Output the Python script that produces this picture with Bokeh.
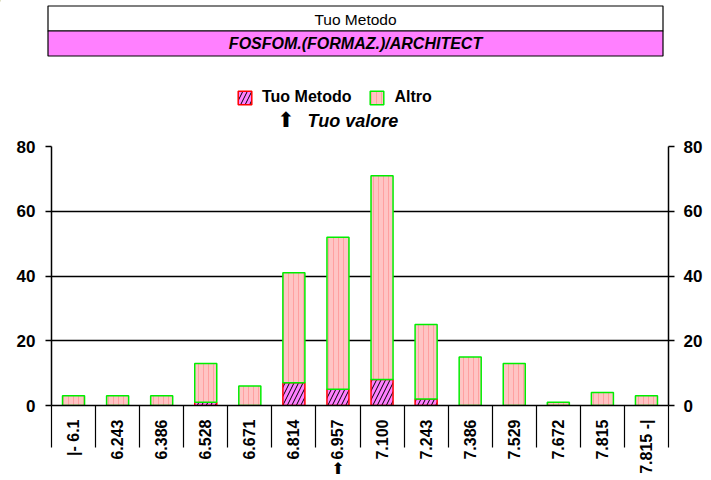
import math
from bokeh.plotting import figure
from bokeh.layouts import column
from bokeh.models import (ColumnDataSource, Range1d, FixedTicker, LinearAxis, Legend,
                          LegendItem)
from bokeh.core.properties import value
from bokeh.embed import file_html
from bokeh.resources import INLINE

# ---- data ----
categories = ["|- 6.1", "6.243", "6.386", "6.528", "6.671", "6.814", "6.957",
              "7.100", "7.243", "7.386", "7.529", "7.672", "7.815", "7.815 -|"]
tuo_metodo = [0, 0, 0, 1, 0, 7, 5, 8, 2, 0, 0, 0, 0, 0]
altro = [3, 3, 3, 12, 6, 34, 47, 63, 23, 15, 13, 1, 4, 3]
y_ticks = [0, 20, 40, 60, 80]
your_value_category = "6.957"
title_top = "Tuo Metodo"
title_sub = "FOSFOM.(FORMAZ.)/ARCHITECT"
legend_labels = ["Tuo Metodo", "Altro"]
marker_text = "Tuo valore"

FONT = "Liberation Sans"
MAGENTA = "#FF80FF"
PINK = "#FFC4C4"
ARROW = "\u2b06"

tuo_style = dict(fill_color=MAGENTA, line_color="#FF0000", line_width=1.5,
                 hatch_pattern="/", hatch_color="#000000", hatch_scale=9, hatch_weight=1)
altro_style = dict(fill_color=PINK, line_color="#00EE00", line_width=1.5,
                   hatch_pattern="|", hatch_color="#FFA0A0", hatch_scale=5, hatch_weight=1)

W = 711
HEAD_H = 136
MAIN_H = 480 - HEAD_H
BL, BR = 51, 43          # left / right borders of the chart frame

# ---------------- header (title boxes, legend, marker note) ----------------
head = figure(width=W, height=HEAD_H, output_backend="svg", toolbar_location=None,
              title=None, x_axis_location=None, y_axis_location=None, min_border=0)
if "frame_align" in head.properties():
    head.frame_align = False
    hx0, hx1 = 0, W
else:
    hx0, hx1 = BL, W - BR
head.x_range = Range1d(hx0, hx1)
head.y_range = Range1d(HEAD_H, 0)
head.grid.visible = False
head.outline_line_color = None
head.background_fill_color = "white"
head.border_fill_color = "white"

head.quad(left=[max(47.5, hx0 + 0.5)] * 2, right=[662.5, 662.5], top=[5.5, 30.5],
          bottom=[30.5, 55.5], fill_color=["white", MAGENTA], line_color="black",
          line_width=1.2)
head.text(x=[355], y=[18.5], text=[title_top], text_align="center", text_baseline="middle",
          text_font=value(FONT), text_font_size="15.5px", text_color="black")
head.text(x=[355], y=[43], text=[title_sub], text_align="center", text_baseline="middle",
          text_font=value(FONT), text_font_style="bold italic", text_font_size="16px",
          text_color="black")

# legend swatches: off-frame zero-height bars, only used by the legend
lr_tuo = head.vbar(x=[hx0 - 100], top=[0], bottom=[0], width=1, **tuo_style)
lr_altro = head.vbar(x=[hx0 - 100], top=[0], bottom=[0], width=1, **altro_style)
legend = Legend(items=[LegendItem(label=legend_labels[0], renderers=[lr_tuo]),
                       LegendItem(label=legend_labels[1], renderers=[lr_altro])],
                location=(236 - hx0, 30), orientation="horizontal",
                glyph_width=17, glyph_height=17, label_standoff=9, spacing=17,
                padding=0, margin=0, border_line_color=None,
                background_fill_alpha=0,
                label_text_font=FONT, label_text_font_style="bold",
                label_text_font_size="16px", label_text_color="black")
head.add_layout(legend)

head.text(x=[285.5], y=[119.5], text=[ARROW], text_align="center", text_baseline="middle",
          text_font=value("DejaVu Sans"), text_font_size="21px", text_color="black")
head.text(x=[307], y=[120.5], text=[marker_text], text_align="left", text_baseline="middle",
          text_font=value(FONT), text_font_style="bold italic", text_font_size="18px",
          text_color="black")

# ---------------- main chart ----------------
xpos = list(range(1, len(categories) + 1))
source = ColumnDataSource(data=dict(x=xpos, tuo=tuo_metodo, altro=altro))

p = figure(width=W, height=MAIN_H, output_backend="svg", toolbar_location=None,
           title=None, x_range=Range1d(0.5, len(categories) + 0.5),
           y_range=Range1d(0, 80),
           min_border_left=BL, min_border_right=BR, min_border_top=10,
           min_border_bottom=75)
p.outline_line_color = None
p.background_fill_color = "white"
p.border_fill_color = "white"

stack_styles = {k: [tuo_style[k], altro_style[k]] for k in tuo_style}
renderers = p.vbar_stack(["tuo", "altro"], x="x", width=0.5, source=source, **stack_styles)

# x axis: labels at category centres, separators as minor ticks
xa = p.xaxis[0]
xa.ticker = FixedTicker(ticks=xpos, minor_ticks=[i + 0.5 for i in range(len(categories) + 1)])
xa.major_label_overrides = {i: c for i, c in zip(xpos, categories)}
xa.major_label_orientation = math.pi / 2
xa.major_label_text_font = FONT
xa.major_label_text_font_style = "bold"
xa.major_label_text_font_size = "16px"
xa.major_label_text_color = "black"
xa.major_label_standoff = -28
xa.major_tick_line_color = None
xa.major_tick_out = 0
xa.major_tick_in = 0
xa.minor_tick_line_color = "black"
xa.minor_tick_line_width = 1.2
xa.minor_tick_out = 42
xa.minor_tick_in = 0
xa.axis_line_color = "black"
xa.axis_line_width = 1.5

# arrow under the category holding your value (an extra axis with one tick)
mark_tick = categories.index(your_value_category) + 1
mark_axis = LinearAxis(ticker=FixedTicker(ticks=[mark_tick], minor_ticks=[]),
                       major_label_overrides={mark_tick: ARROW})
mark_axis.axis_line_color = None
mark_axis.major_tick_line_color = None
mark_axis.minor_tick_line_color = None
mark_axis.major_tick_out = 0
mark_axis.major_tick_in = 0
mark_axis.minor_tick_out = 0
mark_axis.major_label_standoff = -18
mark_axis.major_label_text_font = "DejaVu Sans"
mark_axis.major_label_text_font_size = "16px"
mark_axis.major_label_text_color = "black"
p.add_layout(mark_axis, "below")

def style_y(ax):
    ax.ticker = FixedTicker(ticks=y_ticks, minor_ticks=[])
    ax.major_label_text_font = FONT
    ax.major_label_text_font_style = "bold"
    ax.major_label_text_font_size = "17px"
    ax.major_label_text_color = "black"
    ax.major_tick_out = 6
    ax.major_tick_in = 0
    ax.major_tick_line_color = "black"
    ax.major_tick_line_width = 1.5
    ax.minor_tick_line_color = None
    ax.axis_line_color = "black"
    ax.axis_line_width = 1.5

ya = p.yaxis[0]
style_y(ya)
ya.major_label_standoff = 10
ra = LinearAxis()
style_y(ra)
ra.major_label_standoff = 9
p.add_layout(ra, "right")

p.xgrid.grid_line_color = None
p.ygrid.ticker = FixedTicker(ticks=y_ticks)
p.ygrid.grid_line_color = "black"
p.ygrid.grid_line_width = 1.5

layout = column(head, p, spacing=0)
open("out.html", "w").write(file_html(layout, INLINE))
